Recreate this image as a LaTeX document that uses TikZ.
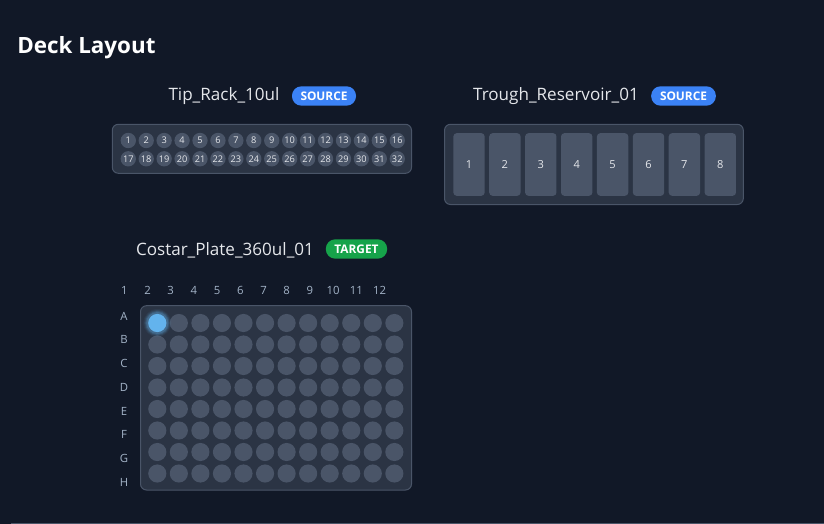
\documentclass[tikz,border=0pt]{standalone}
\usepackage{fontspec}
\setmainfont{Open Sans}
\definecolor{bg}{HTML}{111827}
\definecolor{cardfill}{HTML}{2B3444}
\definecolor{cardline}{HTML}{4A5568}
\definecolor{wellfill}{HTML}{4A5568}
\definecolor{txtlight}{HTML}{E5E7EB}
\definecolor{lbl}{HTML}{A3B3C7}
\definecolor{srcblue}{HTML}{3B82F6}
\definecolor{tgtgreen}{HTML}{16A34A}
\definecolor{active}{HTML}{63B3ED}
\newcommand\pxu{0.75pt}
\tikzset{
  card/.style={draw=cardline, fill=cardfill, line width=0.75pt, rounded corners=4.5pt},
  labtitle/.style={text=txtlight, font=\fontsize{12.8}{15}\selectfont, inner sep=0pt},
  badge/.style={rounded corners=7pt, text=white, font=\fontsize{8.9}{10}\selectfont\bfseries, inner sep=0pt, minimum height=14.5pt},
  tip/.style={circle, fill=wellfill, minimum size=11.5pt, inner sep=0pt, text=txtlight, font=\fontsize{6.9}{7}\selectfont},
  trough/.style={fill=wellfill, rounded corners=2.5pt, minimum width=23.5pt, minimum height=47pt, inner sep=0pt, text=txtlight, font=\fontsize{8.3}{9}\selectfont},
  well/.style={circle, fill=wellfill, minimum size=13.6pt, inner sep=0pt},
  axlbl/.style={text=lbl, font=\fontsize{8.5}{9}\selectfont, inner sep=0pt, anchor=base}
}
\begin{document}
\begin{tikzpicture}[x=0.75pt,y=-0.75pt]
\fill[bg] (0,0) rectangle (824,524);
\useasboundingbox (0,0) rectangle (824,524);
% title
\node[anchor=west, text=white, font=\fontsize{16.8}{20}\selectfont\bfseries, inner sep=0pt] (title) at (17,47.5) {Deck Layout};
% Tip rack
\node[labtitle] (tiptitle) at (224,96.5) {Tip\_Rack\_10ul};
\node[badge, fill=srcblue, minimum width=48pt] (tipbadge) at (324,96) {SOURCE};
\draw[card] (112.3,124.3) rectangle (411.5,173.3);
\foreach \i in {1,...,16}{
  \node[tip] (tip\i) at ({128.3+(\i-1)*17.93},140.5) {\i};
}
\foreach \i in {17,...,32}{
  \node[tip] (tip\i) at ({128.3+(\i-17)*17.93},158.8) {\i};
}
% Trough
\node[labtitle] (trtitle) at (556,96.5) {Trough\_Reservoir\_01};
\node[badge, fill=srcblue, minimum width=48.5pt] (trbadge) at (683.5,96) {SOURCE};
\draw[card] (444.5,124.3) rectangle (743.3,204.5);
\foreach \i in {1,...,8}{
  \node[trough] (tr\i) at ({469+(\i-1)*35.9},164.5) {\i};
}
% Plate
\node[labtitle] (pltitle) at (225,250) {Costar\_Plate\_360ul\_01};
\node[badge, fill=tgtgreen, minimum width=46pt] (plbadge) at (356.5,249) {TARGET};
\draw[card] (140.5,305.7) rectangle (411.5,490);
\foreach \c [count=\k from 0] in {1,...,12}{
  \node[axlbl] (col\c) at ({124.3+\k*23.2},294) {\c};
}
\foreach \r [count=\k from 0] in {A,B,C,D,E,F,G,H}{
  \node[axlbl] (row\r) at (124,{320+\k*23.75}) {\r};
  \foreach \c in {1,...,12}{
    \node[well] (w\r\c) at ({157.3+(\c-1)*21.55},{323+\k*21.5}) {};
  }
}
% highlighted A1
\foreach \g/\o in {14/0.06,13/0.1,12/0.16,11/0.22}{
  \fill[active, opacity=\o] (wA1.center) circle (\g*\pxu);
}
\node[well, fill=active] (wA1h) at (wA1.center) {};
% bottom rule
\draw[cardline, line width=1.5pt] (11,523.5) -- (824,523.5);
\end{tikzpicture}
\end{document}
